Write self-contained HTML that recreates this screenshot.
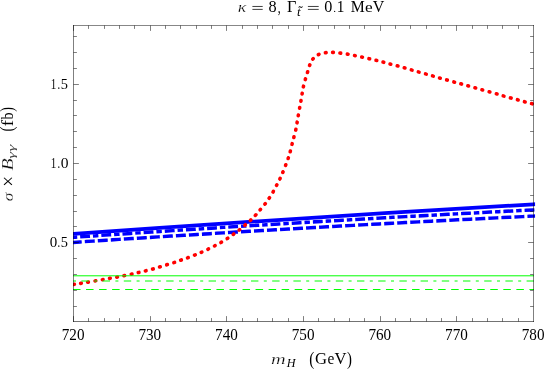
<!DOCTYPE html>
<html><head><meta charset="utf-8"><title>plot</title>
<style>html,body{margin:0;padding:0;background:#fff;}svg{display:block;will-change:transform;}text{font-family:"Liberation Serif",serif;fill:#000;}</style></head>
<body>
<svg width="545" height="370" viewBox="0 0 545 370">
<rect x="0" y="0" width="545" height="370" fill="#ffffff"/>
<defs><clipPath id="cp"><rect x="73" y="25" width="462.2" height="297"/></clipPath></defs>
<g clip-path="url(#cp)">
<g fill="none" stroke="#0000ff" stroke-width="3.45" stroke-linecap="square">
<path d="M73.5 233.95 Q303.5 217.45 533.5 204.35" stroke-width="3.75"/>
<path d="M73.5 237.3 Q303.5 221.4 533.5 209.9" stroke-dasharray="2 6.4 6.4 6.4"/>
<path d="M73.5 242.4 Q303.5 227.05 533.5 216.1" stroke-dasharray="6.52 6.52"/>
</g>
<g fill="#ff0000">
<rect x="71.85" y="282.60" width="4.3" height="3.6" rx="1.75" transform="rotate(-8.9 74.0 284.4)"/>
<rect x="78.85" y="281.50" width="4.3" height="3.6" rx="1.75" transform="rotate(-8.9 81.0 283.3)"/>
<rect x="85.85" y="280.40" width="4.3" height="3.6" rx="1.75" transform="rotate(-9.5 88.0 282.2)"/>
<rect x="93.25" y="279.10" width="4.3" height="3.6" rx="1.75" transform="rotate(-10.0 95.4 280.9)"/>
<rect x="100.55" y="277.80" width="4.3" height="3.6" rx="1.75" transform="rotate(-10.2 102.7 279.6)"/>
<rect x="107.75" y="276.50" width="4.3" height="3.6" rx="1.75" transform="rotate(-9.8 109.9 278.3)"/>
<rect x="114.95" y="275.30" width="4.3" height="3.6" rx="1.75" transform="rotate(-10.7 117.1 277.1)"/>
<rect x="122.05" y="273.80" width="4.3" height="3.6" rx="1.75" transform="rotate(-11.7 124.2 275.6)"/>
<rect x="129.45" y="272.30" width="4.3" height="3.6" rx="1.75" transform="rotate(-12.1 131.6 274.1)"/>
<rect x="136.45" y="270.70" width="4.3" height="3.6" rx="1.75" transform="rotate(-13.2 138.6 272.5)"/>
<rect x="143.55" y="269.00" width="4.3" height="3.6" rx="1.75" transform="rotate(-13.8 145.7 270.8)"/>
<rect x="150.75" y="267.20" width="4.3" height="3.6" rx="1.75" transform="rotate(-15.4 152.9 269.0)"/>
<rect x="157.75" y="265.10" width="4.3" height="3.6" rx="1.75" transform="rotate(-16.9 159.9 266.9)"/>
<rect x="164.90" y="262.90" width="4.3" height="3.6" rx="1.75" transform="rotate(-17.1 167.05 264.7)"/>
<rect x="172.05" y="260.70" width="4.3" height="3.6" rx="1.75" transform="rotate(-18.2 174.2 262.5)"/>
<rect x="178.85" y="258.30" width="4.3" height="3.6" rx="1.75" transform="rotate(-19.3 181.0 260.1)"/>
<rect x="185.75" y="255.90" width="4.3" height="3.6" rx="1.75" transform="rotate(-20.1 187.9 257.7)"/>
<rect x="192.75" y="253.20" width="4.3" height="3.6" rx="1.75" transform="rotate(-22.0 194.9 255.0)"/>
<rect x="199.35" y="250.40" width="4.3" height="3.6" rx="1.75" transform="rotate(-23.9 201.5 252.2)"/>
<rect x="206.05" y="247.30" width="4.3" height="3.6" rx="1.75" transform="rotate(-25.7 208.2 249.1)"/>
<rect x="212.65" y="244.00" width="4.3" height="3.6" rx="1.75" transform="rotate(-27.6 214.8 245.8)"/>
<rect x="219.05" y="240.50" width="4.3" height="3.6" rx="1.75" transform="rotate(-30.2 221.2 242.3)"/>
<rect x="225.35" y="236.60" width="4.3" height="3.6" rx="1.75" transform="rotate(-33.4 227.5 238.4)"/>
<rect x="231.35" y="232.40" width="4.3" height="3.6" rx="1.75" transform="rotate(-35.9 233.5 234.2)"/>
<rect x="237.25" y="228.00" width="4.3" height="3.6" rx="1.75" transform="rotate(-38.4 239.4 229.8)"/>
<rect x="242.95" y="223.20" width="4.3" height="3.6" rx="1.75" transform="rotate(-40.6 245.1 225.0)"/>
<rect x="248.45" y="218.40" width="4.3" height="3.6" rx="1.75" transform="rotate(-43.2 250.6 220.2)"/>
<rect x="253.50" y="213.30" width="4.3" height="3.6" rx="1.75" transform="rotate(-47.5 255.65 215.1)"/>
<rect x="258.15" y="207.80" width="4.3" height="3.6" rx="1.75" transform="rotate(-49.8 260.3 209.6)"/>
<rect x="262.95" y="202.10" width="4.3" height="3.6" rx="1.75" transform="rotate(-52.2 265.1 203.9)"/>
<rect x="267.15" y="196.20" width="4.3" height="3.6" rx="1.75" transform="rotate(-56.4 269.3 198.0)"/>
<rect x="271.05" y="189.90" width="4.3" height="3.6" rx="1.75" transform="rotate(-60.2 273.2 191.7)"/>
<rect x="274.55" y="183.30" width="4.3" height="3.6" rx="1.75" transform="rotate(-62.4 276.7 185.1)"/>
<rect x="277.85" y="176.90" width="4.3" height="3.6" rx="1.75" transform="rotate(-64.5 280.0 178.7)"/>
<rect x="280.75" y="170.30" width="4.3" height="3.6" rx="1.75" transform="rotate(-67.3 282.9 172.1)"/>
<rect x="283.55" y="163.30" width="4.3" height="3.6" rx="1.75" transform="rotate(-69.0 285.7 165.1)"/>
<rect x="286.10" y="156.35" width="4.3" height="3.6" rx="1.75" transform="rotate(-71.5 288.25 158.15)"/>
<rect x="288.15" y="149.55" width="4.3" height="3.6" rx="1.75" transform="rotate(-74.8 290.3 151.35)"/>
<rect x="289.95" y="142.20" width="4.3" height="3.6" rx="1.75" transform="rotate(-75.8 292.1 144.0)"/>
<rect x="291.75" y="135.30" width="4.3" height="3.6" rx="1.75" transform="rotate(-75.5 293.9 137.1)"/>
<rect x="293.65" y="127.90" width="4.3" height="3.6" rx="1.75" transform="rotate(-77.6 295.8 129.7)"/>
<rect x="294.95" y="120.70" width="4.3" height="3.6" rx="1.75" transform="rotate(-80.1 297.1 122.5)"/>
<rect x="296.15" y="113.60" width="4.3" height="3.6" rx="1.75" transform="rotate(-80.1 298.3 115.4)"/>
<rect x="297.50" y="106.10" width="4.3" height="3.6" rx="1.75" transform="rotate(-79.7 299.65 107.9)"/>
<rect x="298.80" y="99.05" width="4.3" height="3.6" rx="1.75" transform="rotate(-80.1 300.95 100.85)"/>
<rect x="300.00" y="91.80" width="4.3" height="3.6" rx="1.75" transform="rotate(-80.1 302.15 93.6)"/>
<rect x="301.30" y="84.70" width="4.3" height="3.6" rx="1.75" transform="rotate(-77.3 303.45 86.5)"/>
<rect x="303.25" y="77.40" width="4.3" height="3.6" rx="1.75" transform="rotate(-74.1 305.4 79.2)"/>
<rect x="305.40" y="70.35" width="4.3" height="3.6" rx="1.75" transform="rotate(-73.0 307.55 72.15)"/>
<rect x="307.55" y="63.35" width="4.3" height="3.6" rx="1.75" transform="rotate(-67.6 309.7 65.15)"/>
<rect x="310.85" y="57.10" width="4.3" height="3.6" rx="1.75" transform="rotate(-50.1 313.0 58.9)"/>
<rect x="316.50" y="52.65" width="4.3" height="3.6" rx="1.75" transform="rotate(-26.1 318.65 54.45)"/>
<rect x="323.60" y="50.85" width="4.3" height="3.6" rx="1.75" transform="rotate(-8.1 325.75 52.65)"/>
<rect x="330.85" y="50.60" width="4.3" height="3.6" rx="1.75" transform="rotate(1.8 333.0 52.4)"/>
<rect x="338.15" y="51.30" width="4.3" height="3.6" rx="1.75" transform="rotate(7.0 340.3 53.1)"/>
<rect x="345.55" y="52.40" width="4.3" height="3.6" rx="1.75" transform="rotate(9.7 347.7 54.2)"/>
<rect x="352.75" y="53.80" width="4.3" height="3.6" rx="1.75" transform="rotate(11.4 354.9 55.6)"/>
<rect x="359.95" y="55.30" width="4.3" height="3.6" rx="1.75" transform="rotate(12.3 362.1 57.1)"/>
<rect x="367.15" y="56.95" width="4.3" height="3.6" rx="1.75" transform="rotate(13.0 369.3 58.75)"/>
<rect x="374.25" y="58.60" width="4.3" height="3.6" rx="1.75" transform="rotate(13.7 376.4 60.4)"/>
<rect x="381.25" y="60.40" width="4.3" height="3.6" rx="1.75" transform="rotate(14.8 383.4 62.2)"/>
<rect x="388.25" y="62.30" width="4.3" height="3.6" rx="1.75" transform="rotate(14.6 390.4 64.1)"/>
<rect x="395.45" y="64.10" width="4.3" height="3.6" rx="1.75" transform="rotate(15.0 397.6 65.9)"/>
<rect x="402.45" y="66.10" width="4.3" height="3.6" rx="1.75" transform="rotate(16.2 404.6 67.9)"/>
<rect x="409.55" y="68.20" width="4.3" height="3.6" rx="1.75" transform="rotate(16.2 411.7 70.0)"/>
<rect x="416.55" y="70.20" width="4.3" height="3.6" rx="1.75" transform="rotate(15.7 418.7 72.0)"/>
<rect x="423.75" y="72.20" width="4.3" height="3.6" rx="1.75" transform="rotate(15.7 425.9 74.0)"/>
<rect x="430.75" y="74.20" width="4.3" height="3.6" rx="1.75" transform="rotate(16.3 432.9 76.0)"/>
<rect x="437.75" y="76.30" width="4.3" height="3.6" rx="1.75" transform="rotate(15.8 439.9 78.1)"/>
<rect x="444.85" y="78.20" width="4.3" height="3.6" rx="1.75" transform="rotate(15.4 447.0 80.0)"/>
<rect x="452.05" y="80.25" width="4.3" height="3.6" rx="1.75" transform="rotate(15.5 454.2 82.05)"/>
<rect x="459.05" y="82.15" width="4.3" height="3.6" rx="1.75" transform="rotate(15.4 461.2 83.95)"/>
<rect x="466.05" y="84.10" width="4.3" height="3.6" rx="1.75" transform="rotate(15.6 468.2 85.9)"/>
<rect x="473.15" y="86.10" width="4.3" height="3.6" rx="1.75" transform="rotate(15.8 475.3 87.9)"/>
<rect x="480.15" y="88.10" width="4.3" height="3.6" rx="1.75" transform="rotate(15.7 482.3 89.9)"/>
<rect x="487.35" y="90.10" width="4.3" height="3.6" rx="1.75" transform="rotate(15.5 489.5 91.9)"/>
<rect x="494.55" y="92.10" width="4.3" height="3.6" rx="1.75" transform="rotate(16.2 496.7 93.9)"/>
<rect x="501.45" y="94.20" width="4.3" height="3.6" rx="1.75" transform="rotate(16.2 503.6 96.0)"/>
<rect x="508.65" y="96.20" width="4.3" height="3.6" rx="1.75" transform="rotate(15.0 510.8 98.0)"/>
<rect x="515.65" y="98.00" width="4.3" height="3.6" rx="1.75" transform="rotate(15.2 517.8 99.8)"/>
<rect x="522.65" y="100.00" width="4.3" height="3.6" rx="1.75" transform="rotate(15.5 524.8 101.8)"/>
<rect x="529.75" y="101.90" width="4.3" height="3.6" rx="1.75" transform="rotate(15.0 531.9 103.7)"/>
</g>
<g fill="none" stroke="#00ff00" stroke-width="1.0" stroke-linecap="square">
<path d="M73.5 275.8 L533.5 275.8"/>
<path d="M73.5 281.0 L533.5 281.0" stroke-dasharray="2 6.4 6.4 6.4"/>
<path d="M73.5 289.5 L533.5 289.5" stroke-dasharray="6.52 6.52"/>
</g>
</g>
<path d="M73.0 25.5 H534.0" stroke="#000" stroke-opacity="0.47" stroke-width="1"/>
<path d="M533.5 25.0 V322.0" stroke="#000" stroke-opacity="0.5" stroke-width="1"/>
<path d="M73.0 321.5 H534.0" stroke="#000" stroke-opacity="0.55" stroke-width="1"/>
<path d="M73.5 25.0 V322.0" stroke="#000" stroke-opacity="0.5" stroke-width="1"/>
<g stroke="#000" stroke-opacity="0.5" stroke-width="1" fill="none">
<path d="M73.50 321.5 v-5.4 M73.50 25.5 v5.4"/>
<path d="M88.50 321.5 v-3.4 M88.50 25.5 v3.4"/>
<path d="M104.50 321.5 v-3.4 M104.50 25.5 v3.4"/>
<path d="M119.50 321.5 v-3.4 M119.50 25.5 v3.4"/>
<path d="M134.50 321.5 v-3.4 M134.50 25.5 v3.4"/>
<path d="M150.50 321.5 v-5.4 M150.50 25.5 v5.4"/>
<path d="M165.50 321.5 v-3.4 M165.50 25.5 v3.4"/>
<path d="M180.50 321.5 v-3.4 M180.50 25.5 v3.4"/>
<path d="M196.50 321.5 v-3.4 M196.50 25.5 v3.4"/>
<path d="M211.50 321.5 v-3.4 M211.50 25.5 v3.4"/>
<path d="M226.50 321.5 v-5.4 M226.50 25.5 v5.4"/>
<path d="M242.50 321.5 v-3.4 M242.50 25.5 v3.4"/>
<path d="M257.50 321.5 v-3.4 M257.50 25.5 v3.4"/>
<path d="M272.50 321.5 v-3.4 M272.50 25.5 v3.4"/>
<path d="M288.50 321.5 v-3.4 M288.50 25.5 v3.4"/>
<path d="M303.50 321.5 v-5.4 M303.50 25.5 v5.4"/>
<path d="M318.50 321.5 v-3.4 M318.50 25.5 v3.4"/>
<path d="M334.50 321.5 v-3.4 M334.50 25.5 v3.4"/>
<path d="M349.50 321.5 v-3.4 M349.50 25.5 v3.4"/>
<path d="M364.50 321.5 v-3.4 M364.50 25.5 v3.4"/>
<path d="M380.50 321.5 v-5.4 M380.50 25.5 v5.4"/>
<path d="M395.50 321.5 v-3.4 M395.50 25.5 v3.4"/>
<path d="M410.50 321.5 v-3.4 M410.50 25.5 v3.4"/>
<path d="M426.50 321.5 v-3.4 M426.50 25.5 v3.4"/>
<path d="M441.50 321.5 v-3.4 M441.50 25.5 v3.4"/>
<path d="M456.50 321.5 v-5.4 M456.50 25.5 v5.4"/>
<path d="M472.50 321.5 v-3.4 M472.50 25.5 v3.4"/>
<path d="M487.50 321.5 v-3.4 M487.50 25.5 v3.4"/>
<path d="M502.50 321.5 v-3.4 M502.50 25.5 v3.4"/>
<path d="M518.50 321.5 v-3.4 M518.50 25.5 v3.4"/>
<path d="M73.5 306.50 h3.4 M533.5 306.50 h-3.4"/>
<path d="M73.5 290.50 h3.4 M533.5 290.50 h-3.4"/>
<path d="M73.5 274.50 h3.4 M533.5 274.50 h-3.4"/>
<path d="M73.5 258.50 h3.4 M533.5 258.50 h-3.4"/>
<path d="M73.5 242.50 h5.4 M533.5 242.50 h-5.4"/>
<path d="M73.5 226.50 h3.4 M533.5 226.50 h-3.4"/>
<path d="M73.5 211.50 h3.4 M533.5 211.50 h-3.4"/>
<path d="M73.5 195.50 h3.4 M533.5 195.50 h-3.4"/>
<path d="M73.5 179.50 h3.4 M533.5 179.50 h-3.4"/>
<path d="M73.5 163.50 h5.4 M533.5 163.50 h-5.4"/>
<path d="M73.5 147.50 h3.4 M533.5 147.50 h-3.4"/>
<path d="M73.5 131.50 h3.4 M533.5 131.50 h-3.4"/>
<path d="M73.5 115.50 h3.4 M533.5 115.50 h-3.4"/>
<path d="M73.5 100.50 h3.4 M533.5 100.50 h-3.4"/>
<path d="M73.5 84.50 h5.4 M533.5 84.50 h-5.4"/>
<path d="M73.5 68.50 h3.4 M533.5 68.50 h-3.4"/>
<path d="M73.5 52.50 h3.4 M533.5 52.50 h-3.4"/>
<path d="M73.5 36.50 h3.4 M533.5 36.50 h-3.4"/>
</g>
<text transform="translate(73.15 339.9) scale(0.955 1)" font-size="15.9" text-anchor="middle">720</text>
<text transform="translate(149.82 339.9) scale(0.955 1)" font-size="15.9" text-anchor="middle">730</text>
<text transform="translate(226.48 339.9) scale(0.955 1)" font-size="15.9" text-anchor="middle">740</text>
<text transform="translate(303.15 339.9) scale(0.955 1)" font-size="15.9" text-anchor="middle">750</text>
<text transform="translate(379.82 339.9) scale(0.955 1)" font-size="15.9" text-anchor="middle">760</text>
<text transform="translate(456.48 339.9) scale(0.955 1)" font-size="15.9" text-anchor="middle">770</text>
<text transform="translate(533.15 339.9) scale(0.955 1)" font-size="15.9" text-anchor="middle">780</text>
<text transform="translate(50.63 88.65) scale(0.7170 1)" font-size="15.45">1</text>
<text transform="translate(57.55 88.63) scale(0.6944 1)" font-size="15.23">.</text>
<text transform="translate(60.76 88.65) scale(0.9335 1)" font-size="15.42">5</text>
<text transform="translate(50.63 167.85) scale(0.7170 1)" font-size="15.45">1</text>
<text transform="translate(57.55 167.83) scale(0.6944 1)" font-size="15.23">.</text>
<text transform="translate(60.76 167.85) scale(1.0104 1)" font-size="15.41">0</text>
<text transform="translate(49.63 247.25) scale(0.9721 1)" font-size="15.41">0</text>
<text transform="translate(57.55 247.23) scale(0.6944 1)" font-size="15.23">.</text>
<text transform="translate(60.76 247.25) scale(0.9335 1)" font-size="15.42">5</text>
<g>
<text transform="translate(237.69 12.00) scale(1.2370 1)" font-size="14.60" font-style="italic" stroke="#fff" stroke-width="0.25">κ</text>
<path d="M252.4 6.46 H262.7 M252.4 9.4 H262.7" stroke="#000" stroke-width="0.75" fill="none"/>
<text transform="translate(268.48 12.15) scale(1.0267 1)" font-size="15.86">8</text>
<text transform="translate(277.65 12.67) scale(0.6859 1)" font-size="17.13">,</text>
<text transform="translate(286.93 12.00) scale(1.0228 1)" font-size="15.88">Γ</text>
<text transform="translate(296.93 16.09) scale(1.1279 1)" font-size="11.52" font-style="italic">t</text>
<text transform="translate(298.49 10.04) scale(0.9165 1)" font-size="8.33" stroke="#000" stroke-width="0.3">~</text>
<path d="M307.9 6.46 H318.7 M307.9 9.4 H318.7" stroke="#000" stroke-width="0.75" fill="none"/>
<text transform="translate(324.18 12.15) scale(1.0193 1)" font-size="15.86">0</text>
<text transform="translate(333.17 12.04) scale(1.0000 1)" font-size="11.00">.</text>
<text transform="translate(336.75 11.95) scale(0.9784 1)" font-size="15.68">1</text>
<text transform="translate(350.85 11.95) scale(0.9972 1)" font-size="15.81">M</text>
<text transform="translate(364.92 12.01) scale(1.1966 1)" font-size="14.45">e</text>
<text transform="translate(372.72 11.91) scale(1.0069 1)" font-size="15.90">V</text>
</g>
<g>
<text transform="translate(271.07 364.40) scale(1.3129 1)" font-size="15.49" font-style="italic" stroke="#fff" stroke-width="0.25">m</text>
<text transform="translate(286.83 366.90) scale(1.0523 1)" font-size="11.61" font-style="italic">H</text>
<text transform="translate(309.13 364.65) scale(0.8396 1)" font-size="18.09">(</text>
<text transform="translate(315.07 364.38) scale(0.9796 1)" font-size="17.04">G</text>
<text transform="translate(327.40 364.39) scale(0.9682 1)" font-size="15.91">e</text>
<text transform="translate(334.41 364.30) scale(1.0097 1)" font-size="16.42">V</text>
<text transform="translate(346.92 364.65) scale(0.8180 1)" font-size="18.09">)</text>
</g>
<g transform="translate(12.9 201.3) rotate(-90)">
<text transform="translate(0.08 -0.14) scale(1.2008 1)" font-size="14.47" font-style="italic" stroke="#fff" stroke-width="0.25">σ</text>
<text transform="translate(14.58 2.26) scale(0.9466 1)" font-size="20.26">×</text>
<text transform="translate(30.72 -0.05) scale(1.1250 1)" font-size="17.64" font-style="italic" stroke="#fff" stroke-width="0.25">B</text>
<text transform="translate(42.59 2.02) scale(1.5533 1)" font-size="11.16" font-style="italic" fill-opacity="0.72">γ</text>
<text transform="translate(49.79 2.02) scale(1.5533 1)" font-size="11.16" font-style="italic" fill-opacity="0.72">γ</text>
<text transform="translate(69.75 -0.05) scale(0.8180 1)" font-size="18.09">(</text>
<text transform="translate(75.03 0.00) scale(1.1545 1)" font-size="16.05">f</text>
<text transform="translate(81.80 -0.06) scale(0.8685 1)" font-size="16.20">b</text>
<text transform="translate(89.45 -0.05) scale(0.7750 1)" font-size="18.09">)</text>
</g>
</svg>
</body></html>
